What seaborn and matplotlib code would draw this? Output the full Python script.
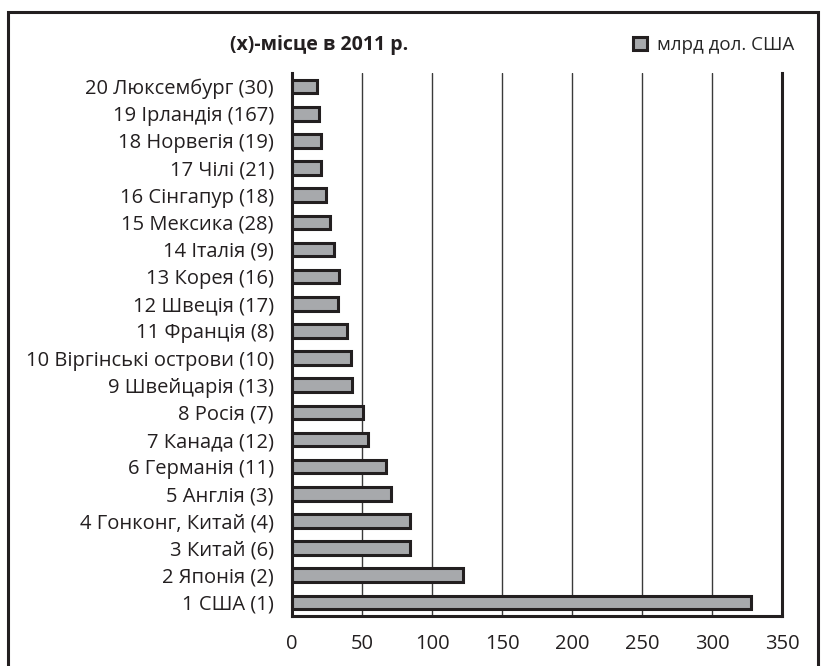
import matplotlib
matplotlib.use('Agg')
import matplotlib.pyplot as plt
import matplotlib.patches as mpatches
import seaborn as sns
import pandas as pd

# Дані: країни (місце в рейтингу) та значення, млрд дол. США
countries = [
    '20 Люксембург (30)', '19 Ірландія (167)', '18 Норвегія (19)', '17 Чілі (21)',
    '16 Сінгапур (18)', '15 Мексика (28)', '14 Італія (9)', '13 Корея (16)',
    '12 Швеція (17)', '11 Франція (8)', '10 Віргінські острови (10)',
    '9 Швейцарія (13)', '8 Росія (7)', '7 Канада (12)', '6 Германія (11)',
    '5 Англія (3)', '4 Гонконг, Китай (4)', '3 Китай (6)', '2 Японія (2)', '1 США (1)',
]
values = [18, 19.5, 21, 21, 24, 27, 30, 33.5, 33, 39,
          42, 43, 51, 54, 67, 71, 84, 84, 122, 328]
x_ticks = [0, 50, 100, 150, 200, 250, 300, 350]

df = pd.DataFrame({'Країна': countries, 'Значення': values})

sns.set_style('white')
plt.rcParams['font.family'] = ['Open Sans', 'DejaVu Sans']

fig = plt.figure(figsize=(8.25, 6.66), dpi=100)
ax = fig.add_axes([292 / 825, 50 / 666, 490 / 825, 543 / 666])

sns.barplot(data=df, x='Значення', y='Країна', order=countries, orient='h',
            color='#a7a9ac', edgecolor='#231f20', linewidth=2.2,
            width=0.5, saturation=1, ax=ax)

ax.set_xlim(0, 350)
ax.set_ylim(19.5, -0.5)
ax.set_xticks(x_ticks)
ax.set_xticklabels([str(t) for t in x_ticks], fontsize=14.5, color='#231f20')
ax.tick_params(axis='x', length=4, width=1, color='#3a3a3a', pad=9)
ax.tick_params(axis='y', length=0, pad=13, labelsize=14.5, labelcolor='#231f20')
ax.set_xlabel('')
ax.set_ylabel('')

# Вертикальна сітка
ax.xaxis.grid(True, color='#3a3a3a', linewidth=1)
ax.set_axisbelow(True)

for side in ['left', 'bottom', 'right']:
    ax.spines[side].set_visible(True)
    ax.spines[side].set_color('#231f20')
    ax.spines[side].set_linewidth(2.2)
ax.spines['top'].set_visible(False)

# Заголовок
fig.text(319 / 825, 1 - 45 / 666, '(x)-місце в 2011 р.', fontsize=14,
         fontweight='bold', ha='center', va='center', color='#231f20')

# Легенда
handle = mpatches.Patch(facecolor='#a7a9ac', edgecolor='#231f20', linewidth=2.2,
                        label='млрд дол. США')
fig.legend(handles=[handle], loc='center left', bbox_to_anchor=(624 / 825, 1 - 45 / 666),
           frameon=False, fontsize=13.5, handlelength=0.75, handleheight=0.75,
           handletextpad=0.5, borderpad=0)

# Рамка навколо всього рисунка
frame = mpatches.Rectangle((8 / 825, -0.05), 810 / 825, 1.05 - 12 / 666,
                           transform=fig.transFigure, fill=False,
                           edgecolor='#231f20', linewidth=2.2)
fig.patches.append(frame)

fig.savefig('out.png', dpi=100)
